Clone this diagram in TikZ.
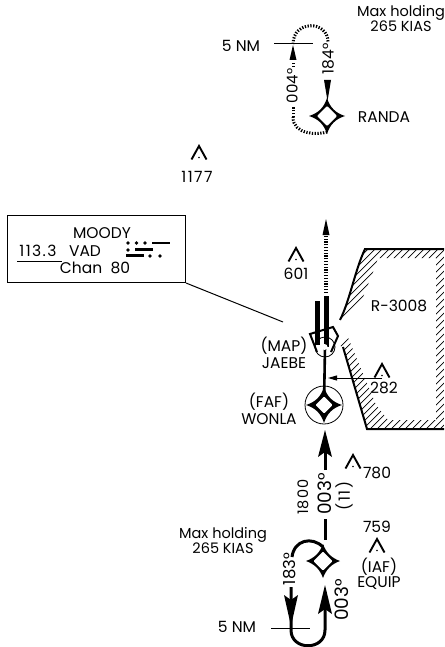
\documentclass[tikz,border=0pt]{standalone}
\usepackage{fontspec}
\setmainfont{Poppins}
\usetikzlibrary{arrows.meta}
\newcommand{\wide}{\addfontfeature{LetterSpace=9}}
\tikzset{
  lbl/.style={inner sep=0pt,font=\fontsize{15.5}{15}\selectfont,align=center},
  num/.style={inner sep=0pt,font=\fontsize{15.5}{15}\selectfont\wide,align=center},
  mhl/.style={inner sep=0pt,font=\fontsize{14.5}{15}\selectfont,align=center},
  rot/.style={inner sep=0pt,font=\fontsize{#1}{#1}\selectfont,rotate=90},
  rotnum/.style={inner sep=0pt,font=\fontsize{#1}{#1}\selectfont\wide,rotate=90},
  course/.style={line width=3pt},
  dotcourse/.style={line width=3pt,dash pattern=on 1.3pt off 1.5pt},
}
\newcommand{\fixstar}[3]{%
  \begin{scope}[shift={(#1)}]
  \fill[black] (0,-#2) .. controls (3,-8.5) and (8.5,-3) .. (#2,0)
     .. controls (8.5,3) and (3,8.5) .. (0,#2)
     .. controls (-3,8.5) and (-8.5,3) .. (-#2,0)
     .. controls (-8.5,-3) and (-3,-8.5) .. (0,-#2) -- cycle;
  \fill[white,rounded corners=1pt] (0,-#3) -- (#3,0) -- (0,#3) -- (-#3,0) -- cycle;
  \end{scope}
}
\newcommand{\spot}[1]{%
  \draw[line width=1.9pt,line join=miter] ([shift={(-7.5,13.5)}]#1) -- (#1) -- ([shift={(7.5,13.5)}]#1);
  \fill ([shift={(0,11.5)}]#1) circle (.8pt);
}
\begin{document}
\begin{tikzpicture}[x=1pt,y=-1pt]
\useasboundingbox (0,0) rectangle (444,647);
% named points
\coordinate (randa) at (327,116);
\coordinate (jaebe) at (325,347);
\coordinate (wonla) at (324,405);
\coordinate (equip) at (323,561);
\coordinate (leaderend) at (283,322);
% restricted area hatching
\begin{scope}
\clip (365,249) -- (444,249) -- (444,429) -- (367,429) -- (343,347) -- (338,345) -- (347,335)
   -- (376,405) -- (388,420) -- (436,420) -- (436,258) -- (378,258) -- (373,272) -- (363,297)
   -- (345,317) -- (340,320) .. controls (350,300) and (355,270) .. (365,249) -- cycle;
\foreach \k in {0,...,40}
  \draw[line width=.7pt] (270+7*\k-200,540) -- (270+7*\k+200,140);
\end{scope}
\draw[line width=2pt] (444,249) -- (365,249) .. controls (355,270) and (350,300) .. (340,320);
\draw[line width=2pt] (343,347) -- (367,429) -- (444,429);
\node[lbl] (r3008) at (399,306) {R-3008};
% top hold
\node[mhl] (mh1) at (401,18.5) {Max holding\\265 KIAS};
\node[lbl] (nm1) at (241,46) {5 NM};
\node[lbl] (randaL) at (384,117) {RANDA};
\draw[dotcourse] (293,67) -- (293,63);
\draw[dotcourse] (293,117) -- (293,106);
\draw[dotcourse] (327,132) .. controls (318,135) and (293,135) .. (293,117);
\draw[dotcourse] (293,44) .. controls (293,20) and (328,20) .. (328,42);
\draw[line width=1pt] (274,44) -- (313,44);
\fill (293,45) -- (296.5,60) -- (289.5,60) -- cycle;
\fill (327.5,101) -- (324,80) -- (331,80) -- cycle;
\node[rot=15] (h004) at (292,86) {004°};
\node[rot=15.5] (h184) at (328,59) {184°};
\fixstar{randa}{18}{10}
% spots
\spot{199,146}
\node[num] (e1177) at (197,177) {1177};
\spot{296,248}
\node[lbl] (e601) at (296,274) {601};
\spot{382,364}
\node[lbl] (e282) at (384,388) {282};
\spot{353,455}
\node[lbl] (e780) at (377,473) {780};
\node[lbl] (e759) at (377,527) {759};
\spot{377,539}
\node[lbl] (iaf) at (379,574) {(IAF)\\EQUIP};
% box
\node[draw,line width=1pt,minimum width=178pt,minimum height=67pt,anchor=north west,inner sep=0pt] (box) at (7,215) {};
\draw[line width=1pt] (box.south east) -- (leaderend);
\node[lbl] (moody) at (102,233) {MOODY};
\node[num] (freq) at (38,251) {113.3};
\node[lbl] (vad) at (85,251) {VAD};
\node[lbl] (chan) at (95,268) {Chan\ \ 80};
\draw[line width=1pt] (17,261) -- (62,261);
\foreach \a/\b in {128/243,136.5/243,145/243,128/250,150/256,160/256}
  \fill (\a,\b) circle (1.9pt);
\draw[line width=2.4pt] (152,243) -- (170,243);
\draw[line width=2.4pt] (135,249.5) -- (153,249.5);
\draw[line width=2.4pt] (126,255.5) -- (144,255.5);
% final approach
\draw[line width=2.6pt] (jaebe) -- (wonla);
\draw[line width=.8pt] (jaebe) circle (10);
\draw[line width=2pt,line join=miter] (317,352) -- (310,334) -- (333,327) -- (338,336) -- (331,352);
\draw[line width=5pt] (326,296) -- (326,347);
\draw[line width=5pt] (317,301) -- (317,345);
\draw[dotcourse,line width=3.5pt] (326,293) -- (326,232);
\fill (326,219) -- (329.5,235) -- (322.5,235) -- cycle;
\fill[white] (324.5,347) circle (3);
\draw[line width=1pt,-{Triangle[length=9pt,width=5pt]}] (382,378) -- (328,378);
\draw[line width=.8pt] (wonla) circle (19);
\fixstar{wonla}{18}{8.5}
\node[lbl] (map) at (284,352.5) {(MAP)\\[2pt]JAEBE};
\node[lbl] (faf) at (269,408.5) {(FAF)\\[2pt]WONLA};
% intermediate segment
\draw[course] (325,470) -- (325,445);
\fill (325,430) -- (332,457) -- (325,452) -- (318,457) -- cycle;
\node[rot=18.5] (crs) at (325,494) {003°};
\node[rotnum=14.5] (alt) at (303,497) {1800};
\node[rotnum=15.5] (dist) at (344,496) {(11)};
\draw[course] (325,519) -- (325,540);
\fixstar{equip}{17}{9.5}
% lower hold
\node[mhl] (mh2) at (223,541) {Max holding\\265 KIAS};
\node[lbl] (nm2) at (237,627) {5 NM};
\draw[line width=3pt] (323,547) .. controls (312,536) and (294,540) .. (292,557);
\draw[line width=3pt] (291,587) -- (291,630) .. controls (291,651) and (325,651) .. (325,630) -- (325,600);
\draw[line width=1pt] (271,628) -- (310,628);
\fill (291,626) -- (284,595) -- (291,600) -- (298,595) -- cycle;
\fill (325,585) -- (332,614) -- (325,609) -- (318,614) -- cycle;
\node[rot=16.5] (h183) at (290,569) {183°};
\node[rot=18.5] (h003) at (342,600) {003°};
\end{tikzpicture}
\end{document}
